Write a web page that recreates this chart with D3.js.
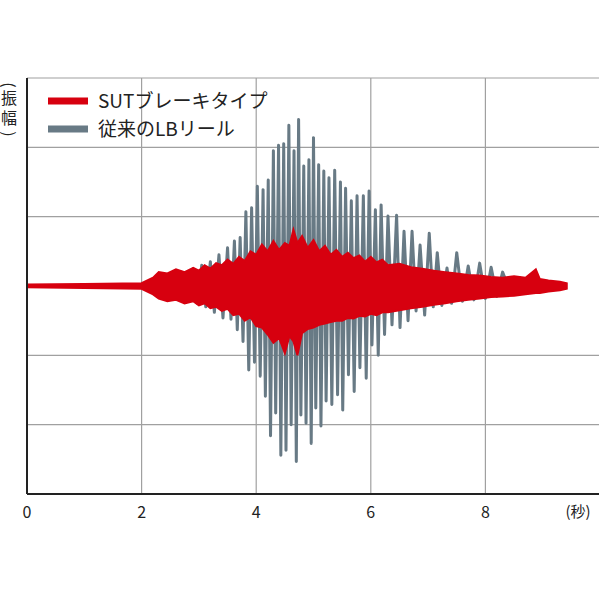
<!DOCTYPE html>
<html><head><meta charset="utf-8">
<script src="https://cdn.jsdelivr.net/npm/d3@7"></script>
<style>body{margin:0;background:#fff}</style>
</head><body>
<script>
// x ticks
var xTicks = [0, 2, 4, 6, 8];
var yGrid = [-3, -2, -1, 1, 2, 3];
var yLabel = ["振", "幅"];

// gray series: upper peaks, and lower peaks lying between them (seconds, amplitude)
var grayUpT = [2.3, 2.5, 2.7, 2.9, 3.05, 3.2, 3.35, 3.5, 3.62, 3.72, 3.82, 3.92, 4.02, 4.12, 4.21, 4.3, 4.39, 4.48, 4.57, 4.66, 4.74, 4.83, 4.92, 5.0, 5.09, 5.18, 5.27, 5.37, 5.47, 5.56, 5.66, 5.76, 5.87, 5.97, 6.08, 6.18, 6.3, 6.45, 6.58, 6.72, 6.86, 7.02, 7.16, 7.33, 7.5, 7.7, 7.9, 8.1, 8.3, 8.6, 8.85];
var grayUpV = [0.12, 0.15, 0.2, 0.25, 0.3, 0.35, 0.45, 0.55, 0.65, 0.7, 1.07, 1.13, 1.44, 1.39, 1.53, 1.95, 2.03, 2.05, 2.32, 1.95, 2.40, 1.73, 1.82, 2.14, 1.75, 1.66, 1.56, 1.67, 1.50, 1.41, 1.23, 1.30, 1.30, 1.37, 1.10, 1.17, 1.01, 1.02, 0.79, 0.79, 0.59, 0.76, 0.48, 0.26, 0.48, 0.29, 0.33, 0.27, 0.2, 0.12, 0.15];
var grayDnT = [2.4, 2.6, 2.8, 2.97, 3.12, 3.27, 3.42, 3.56, 3.67, 3.77, 3.87, 3.97, 4.07, 4.16, 4.25, 4.34, 4.43, 4.52, 4.61, 4.7, 4.78, 4.87, 4.96, 5.04, 5.13, 5.22, 5.32, 5.42, 5.51, 5.61, 5.71, 5.81, 5.92, 6.02, 6.13, 6.24, 6.37, 6.51, 6.65, 6.79, 6.94, 7.09, 7.24, 7.41, 7.6, 7.8, 8.0, 8.2, 8.45, 8.72];
var grayDnV = [-0.1, -0.14, -0.2, -0.25, -0.3, -0.38, -0.46, -0.48, -0.63, -0.8, -1.21, -1.1, -1.3, -1.59, -2.16, -1.83, -2.44, -2.37, -2.0, -2.53, -1.86, -1.98, -2.27, -1.76, -2.02, -1.66, -1.71, -1.57, -1.79, -1.28, -1.52, -1.18, -1.33, -0.85, -1.0, -0.7, -0.56, -0.6, -0.5, -0.36, -0.42, -0.3, -0.28, -0.25, -0.22, -0.2, -0.18, -0.15, -0.12, -0.1];

// red series envelope (seconds, upper, lower)
var redT = [0, 1.0, 2.0, 2.2, 2.3, 2.45, 2.6, 2.75, 2.9, 3.0, 3.1, 3.2, 3.3, 3.4, 3.5, 3.6, 3.7, 3.8, 3.9, 4.0, 4.1, 4.2, 4.3, 4.4, 4.5, 4.58, 4.65, 4.72, 4.8, 4.9, 5.0, 5.1, 5.2, 5.3, 5.4, 5.5, 5.6, 5.7, 5.8, 5.9, 6.0, 6.1, 6.2, 6.3, 6.5, 6.7, 6.9, 7.1, 7.3, 7.5, 7.7, 7.9, 8.1, 8.3, 8.5, 8.7, 8.88, 8.95, 9.1, 9.3, 9.42];
var redUp = [0.02, 0.03, 0.04, 0.12, 0.2, 0.18, 0.24, 0.2, 0.26, 0.22, 0.3, 0.25, 0.33, 0.3, 0.38, 0.32, 0.42, 0.36, 0.5, 0.45, 0.6, 0.5, 0.65, 0.52, 0.62, 0.58, 0.81, 0.62, 0.72, 0.55, 0.66, 0.5, 0.58, 0.45, 0.52, 0.42, 0.48, 0.4, 0.44, 0.35, 0.42, 0.34, 0.38, 0.3, 0.32, 0.27, 0.25, 0.22, 0.2, 0.18, 0.16, 0.15, 0.13, 0.12, 0.14, 0.12, 0.24, 0.1, 0.08, 0.06, 0.04];
var redDn = [-0.02, -0.03, -0.04, -0.12, -0.18, -0.22, -0.2, -0.25, -0.22, -0.28, -0.25, -0.32, -0.3, -0.36, -0.33, -0.42, -0.4, -0.5, -0.45, -0.58, -0.6, -0.7, -0.82, -0.75, -0.97, -0.72, -0.8, -1.0, -0.68, -0.62, -0.6, -0.56, -0.54, -0.52, -0.5, -0.5, -0.46, -0.47, -0.43, -0.44, -0.4, -0.42, -0.38, -0.38, -0.35, -0.32, -0.3, -0.27, -0.25, -0.22, -0.2, -0.18, -0.16, -0.15, -0.14, -0.12, -0.1, -0.1, -0.08, -0.06, -0.04];

var W = 599, H = 599;
var svg = d3.select("body").append("svg").attr("width", W).attr("height", H)
  .style("font-family", "'Noto Sans CJK JP', 'Noto Sans', sans-serif");

var x = d3.scaleLinear().domain([0, 10]).range([27, 600]);
var y = d3.scaleLinear().domain([-3, 3]).range([494, 78]);

// grid
svg.append("g").selectAll("line").data([2, 4, 6, 8, 10]).enter().append("line")
  .attr("x1", d => x(d)).attr("x2", d => x(d)).attr("y1", y(3)).attr("y2", y(-3))
  .attr("stroke", "#a0a0a0").attr("stroke-width", 1.2);
svg.append("g").selectAll("line").data(yGrid).enter().append("line")
  .attr("x1", x(0)).attr("x2", W).attr("y1", d => y(d)).attr("y2", d => y(d))
  .attr("stroke", "#a0a0a0").attr("stroke-width", 1.2);

// gray series: merge peaks by time
var gray = [[0, 0], [2.2, 0.02]];
grayUpT.forEach((t, i) => gray.push([t, grayUpV[i]]));
grayDnT.forEach((t, i) => gray.push([t, grayDnV[i]]));
gray.push([9.0, 0.05], [9.42, 0.02]);
gray.sort((a, b) => a[0] - b[0]);

var line = d3.line().x(d => x(d[0])).y(d => y(d[1]));
svg.append("path").datum(gray).attr("d", line)
  .attr("fill", "none").attr("stroke", "#687a85").attr("stroke-width", 3)
  .attr("stroke-linejoin", "round");

// red band
var red = redT.map((t, i) => ({t: t, u: redUp[i], l: redDn[i]}));
var area = d3.area().x(d => x(d.t)).y0(d => y(d.l)).y1(d => y(d.u));
svg.append("path").datum(red).attr("d", area)
  .attr("fill", "#d7000f").attr("stroke", "#d7000f").attr("stroke-width", 2);

// axes
svg.append("line").attr("x1", x(0)).attr("x2", x(0)).attr("y1", y(3)).attr("y2", y(-3))
  .attr("stroke", "#222").attr("stroke-width", 2);
svg.append("line").attr("x1", x(0)).attr("x2", W).attr("y1", y(-3)).attr("y2", y(-3))
  .attr("stroke", "#222").attr("stroke-width", 2);

svg.append("g").selectAll("text").data(xTicks).enter().append("text")
  .attr("x", d => x(d)).attr("y", 518).attr("text-anchor", "middle")
  .attr("font-size", 16).attr("fill", "#222").text(d => d);
svg.append("text").attr("x", 578).attr("y", 517).attr("text-anchor", "middle")
  .attr("font-size", 15).attr("fill", "#222").text("(秒)");

// y label: stacked characters between rotated brackets
var yl = svg.append("g").attr("fill", "#222").attr("font-size", 16).attr("text-anchor", "middle");
yl.append("text").attr("transform", "translate(9,85) rotate(90)").attr("dy", "0.35em").text("(");
yLabel.forEach((c, i) => {
  yl.append("text").attr("x", 9).attr("y", 104 + i * 20).text(c);
});
yl.append("text").attr("transform", "translate(9,134) rotate(90)").attr("dy", "0.35em").text(")");

// legend
var legend = [["SUTブレーキタイプ", "#d7000f"], ["従来のLBリール", "#687a85"]];
legend.forEach((d, i) => {
  var ly = 101 + i * 28;
  svg.append("line").attr("x1", 48).attr("x2", 88).attr("y1", ly).attr("y2", ly)
    .attr("stroke", d[1]).attr("stroke-width", 7);
  svg.append("text").attr("x", 98).attr("y", ly + 7).attr("font-size", 19)
    .attr("fill", "#222").text(d[0]);
});
</script>
</body></html>
